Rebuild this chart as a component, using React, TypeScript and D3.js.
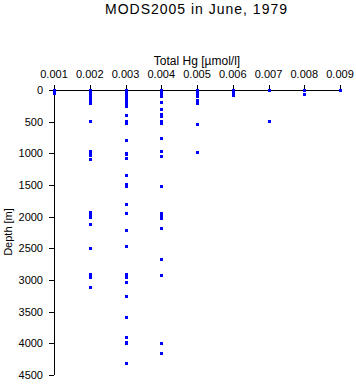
import React from "react";
import * as d3 from "d3";

const title = "MODS2005 in June, 1979";
const xLabel = "Total Hg [µmol/l]";
const yLabel = "Depth [m]";
const xTicks = [0.001, 0.002, 0.003, 0.004, 0.005, 0.006, 0.007, 0.008, 0.009];
const yTicks = [0, 500, 1000, 1500, 2000, 2500, 3000, 3500, 4000, 4500];

// depths (m) sampled at each Total Hg level
const hgLevels = [0.001, 0.002, 0.003, 0.004, 0.005, 0.006, 0.007, 0.008, 0.009];
const depth001 = [0, 25, 50];
const depth002 = [0, 20, 40, 60, 80, 100, 120, 150, 190, 210, 495, 960, 990, 1020, 1095, 1920, 1950, 1980, 2000, 2120, 2500, 2910, 2940, 2960, 3115];
const depth003 = [0, 20, 40, 60, 80, 100, 120, 150, 170, 200, 230, 250, 400, 490, 520, 790, 990, 1005, 1075, 1335, 1480, 1510, 1795, 1940, 2210, 2460, 2900, 2930, 2950, 3030, 3245, 3590, 3900, 3980, 4000, 4315];
const depth004 = [0, 20, 40, 60, 90, 195, 300, 385, 410, 490, 520, 750, 960, 1035, 1515, 1935, 1960, 1990, 2015, 2185, 2665, 2920, 4000, 4150];
const depth005 = [0, 25, 50, 75, 100, 160, 185, 210, 540, 985];
const depth006 = [0, 25, 50, 75];
const depth007 = [0, 495];
const depth008 = [0, 60];
const depth009 = [0];
const depthsByLevel = [depth001, depth002, depth003, depth004, depth005, depth006, depth007, depth008, depth009];

export default function App() {
  const W = 356, H = 384;
  const x = d3.scaleLinear().domain([0.001, 0.009]).range([54, 340]);
  const y = d3.scaleLinear().domain([0, 4500]).range([90, 375]);
  const font = "'Liberation Sans', Arial, Helvetica, sans-serif";
  const points: { hg: number; d: number }[] = [];
  hgLevels.forEach((hg, i) => depthsByLevel[i].forEach((d) => points.push({ hg, d })));
  const ms = 3;
  return (
    <svg width={W} height={H} style={{ position: "absolute", left: 0, top: 0, background: "#fff" }} fontFamily={font}>
      <rect x={0} y={0} width={W} height={H} fill="#fff" />
      <text x={196} y={14} textAnchor="middle" fontSize={14} textLength={182} lengthAdjust="spacing">{title}</text>
      <text x={197} y={65} textAnchor="middle" fontSize={12}>{xLabel}</text>
      <text transform={`translate(12,232) rotate(-90)`} textAnchor="middle" fontSize={11}>{yLabel}</text>
      {/* x axis */}
      <line x1={x(0.001)} x2={x(0.009)} y1={90.5} y2={90.5} stroke="#000" strokeWidth={1} />
      {xTicks.map((t) => (
        <g key={"x" + t}>
          <line x1={Math.round(x(t)) + 0.5} x2={Math.round(x(t)) + 0.5} y1={85} y2={90} stroke="#000" />
          <text x={x(t)} y={78} textAnchor="middle" fontSize={11}>{d3.format(".3f")(t)}</text>
        </g>
      ))}
      {/* y axis */}
      <line x1={54.5} x2={54.5} y1={y(0)} y2={y(4500)} stroke="#000" strokeWidth={1} />
      {yTicks.map((t) => (
        <g key={"y" + t}>
          <line x1={49} x2={54} y1={Math.round(y(t)) + 0.5} y2={Math.round(y(t)) + 0.5} stroke="#000" />
          <text x={43} y={y(t) + 4} textAnchor="end" fontSize={11}>{t}</text>
        </g>
      ))}
      {points.map((p, i) => (
        <rect key={i} x={Math.round(x(p.hg)) - 1} y={Math.round(y(p.d)) - 1} width={ms} height={ms} fill="#0000ff" />
      ))}
    </svg>
  );
}
